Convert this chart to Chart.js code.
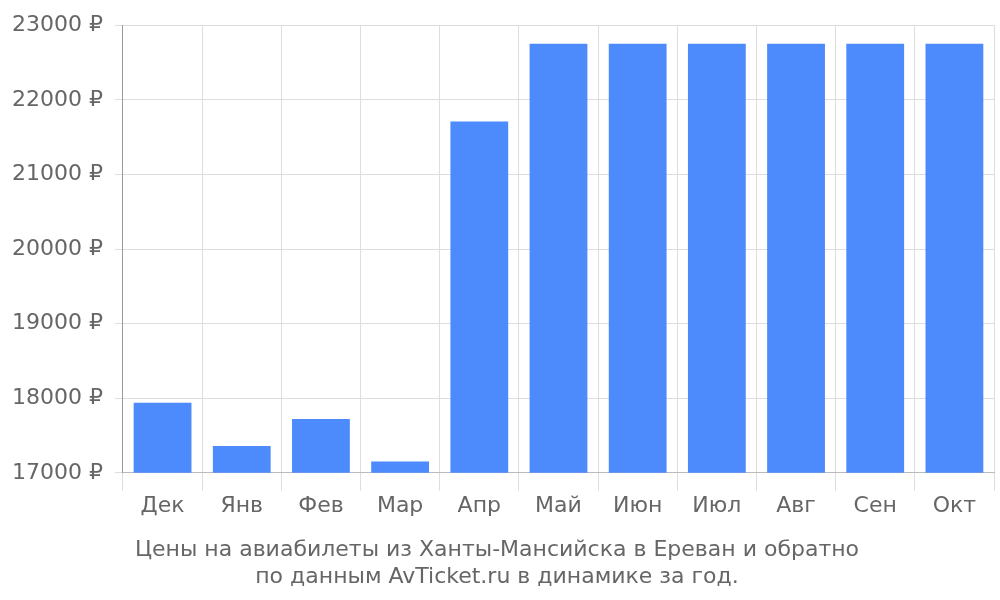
<!DOCTYPE html>
<html><head><meta charset="utf-8">
<script src="https://cdn.jsdelivr.net/npm/chart.js@4"></script>
<style>body{margin:0;background:#fff}#w{width:1000px;height:600px}</style>
</head><body><div id="w"><canvas id="c"></canvas></div>
<script>
const categories=['Дек','Янв','Фев','Мар','Апр','Май','Июн','Июл','Авг','Сен','Окт'];
const prices=[17940,17360,17720,17150,21710,22750,22750,22750,22750,22750,22750];
const yTicks={min:17000,max:23000,step:1000};
const titleLines=['Цены на авиабилеты из Ханты-Мансийска в Ереван и обратно','по данным AvTicket.ru в динамике за год.'];
Chart.defaults.font.family='"DejaVu Sans"';
new Chart(document.getElementById('c'),{type:'bar',
data:{labels:categories,datasets:[{data:prices,backgroundColor:'#4d8afc',barPercentage:0.73,categoryPercentage:1}]},
options:{responsive:true,maintainAspectRatio:false,animation:false,
layout:{padding:{top:2,right:6,left:0,bottom:10}},
plugins:{legend:{display:false},tooltip:{enabled:false},
title:{display:true,position:'bottom',text:titleLines,color:'#666',font:{size:22,weight:'normal'},padding:{top:16,bottom:0},lineHeight:1.2}},
scales:{x:{grid:{color:'#ddd',tickLength:18,offset:true},border:{color:'#bbb'},ticks:{color:'#666',font:{size:22},padding:2}},
y:{min:yTicks.min,max:yTicks.max,grid:{color:'#ddd',tickLength:8},border:{color:'#999'},
ticks:{stepSize:yTicks.step,color:'#666',font:{size:22},padding:12,callback:v=>v+' ₽'}}}}});
</script></body></html>
